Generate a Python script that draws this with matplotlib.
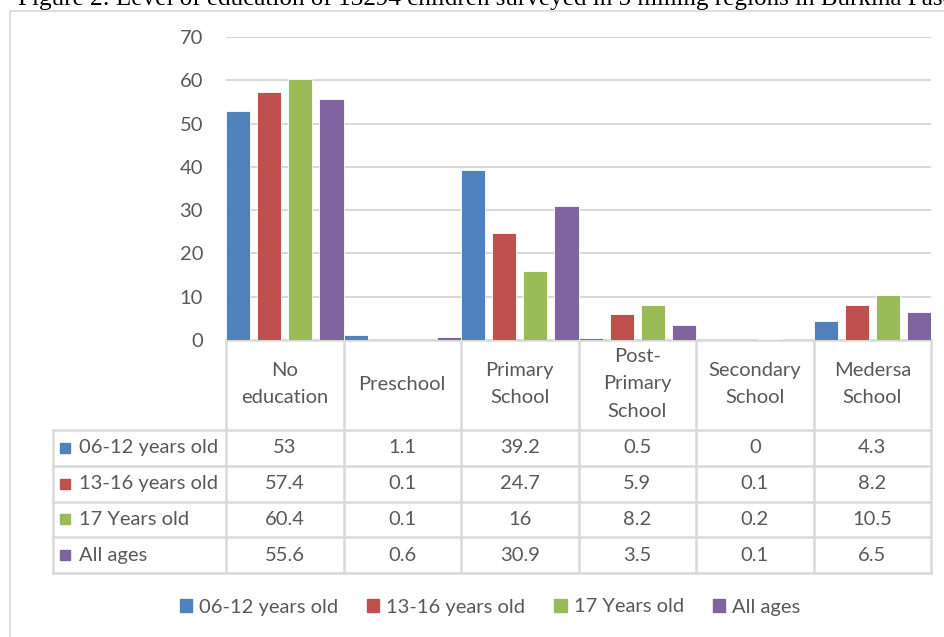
import numpy as np
import matplotlib
matplotlib.use("Agg")
import matplotlib.pyplot as plt
from matplotlib.patches import Rectangle

W, H = 944, 637

title = ("Figure 2: Level of education of 13294 children surveyed "
         "in 5 mining regions in Burkina Faso")
categories = ["No\neducation", "Preschool", "Primary\nSchool",
              "Post-\nPrimary\nSchool", "Secondary\nSchool", "Medersa\nSchool"]
series = ["06-12 years old", "13-16 years old", "17 Years old", "All ages"]
age_06_12 = [53, 1.1, 39.2, 0.5, 0, 4.3]
age_13_16 = [57.4, 0.1, 24.7, 5.9, 0.1, 8.2]
age_17 = [60.4, 0.1, 16, 8.2, 0.2, 10.5]
all_ages = [55.6, 0.6, 30.9, 3.5, 0.1, 6.5]
yticks = [0, 10, 20, 30, 40, 50, 60, 70]

colors = ["#4F81BD", "#C0504D", "#9BBB59", "#8064A2"]
GRID = "#D9D9D9"
TXT = "#595959"
FONT = "Lato"
FS = 14.5

# layout in pixels (from top-left)
PLOT_L, PLOT_R = 226, 931
Y0, YTOP = 340, 37
TAB_L = 53
HDR_BOT = 430
ROW_H = 35.75

fig = plt.figure(figsize=(W / 100, H / 100), dpi=100)
fig.patch.set_facecolor("white")

# ── overlay in pixel coords: frame, title, table ─────────────────────────────
ov = fig.add_axes([0, 0, 1, 1], zorder=0)
ov.set_xlim(0, W)
ov.set_ylim(H, 0)
ov.axis("off")
ov.add_patch(Rectangle((10, 11), W, H, fill=False, ec=GRID, lw=1.2))
ov.text(18, 5, title, family="Liberation Serif", fontsize=18.1, color="black",
        va="baseline", ha="left", clip_on=False)

# ── bars ─────────────────────────────────────────────────────────────────────
ax = fig.add_axes([PLOT_L / W, 1 - Y0 / H, (PLOT_R - PLOT_L) / W, (Y0 - YTOP) / H],
                  zorder=1)
ax.patch.set_visible(False)
x = np.arange(len(categories))
data = [age_06_12, age_13_16, age_17, all_ages]
bw = 0.208
offsets = [-0.396, -0.132, 0.132, 0.396]
for vals, off, col, lab in zip(data, offsets, colors, series):
    ax.bar(x + off, vals, width=bw, color=col, edgecolor="white",
           linewidth=0.6, label=lab, zorder=3)
ax.set_xlim(-0.5, len(categories) - 0.5)
ax.set_ylim(0, 70)
ax.set_yticks(yticks)
ax.set_xticks([])
ax.grid(axis="y", color=GRID, lw=1.5, zorder=0)
for sp in ax.spines.values():
    sp.set_visible(False)
ax.tick_params(axis="y", length=0, pad=16.5, labelsize=FS, labelcolor=TXT)
for t in ax.get_yticklabels():
    t.set_family(FONT)

# ── data table ───────────────────────────────────────────────────────────────
n = len(categories)
colw = (PLOT_R - PLOT_L) / n
edges = [PLOT_L + i * colw for i in range(n + 1)]
tab_bot = HDR_BOT + ROW_H * len(series)

ov.plot([PLOT_L, PLOT_R], [Y0, Y0], color=GRID, lw=1.8)
for ex in edges:
    ov.plot([ex, ex], [Y0, tab_bot], color=GRID, lw=1.8)
ov.plot([TAB_L, TAB_L], [HDR_BOT, tab_bot], color=GRID, lw=1.8)
for r in range(len(series) + 1):
    yy = HDR_BOT + r * ROW_H
    ov.plot([TAB_L, PLOT_R], [yy, yy], color=GRID, lw=1.8)

for i, cat in enumerate(categories):
    ov.text(edges[i] + colw / 2, (Y0 + HDR_BOT) / 2 - 1, cat, ha="center",
            va="center", fontsize=FS, color=TXT, family=FONT, linespacing=1.72)

for r, (lab, vals, col) in enumerate(zip(series, data, colors)):
    yc = HDR_BOT + (r + 0.5) * ROW_H
    ov.add_patch(Rectangle((60, yc - 5), 10, 10, color=col))
    ov.text(79, yc, lab, ha="left", va="center", fontsize=FS, color=TXT,
            family=FONT)
    for i, v in enumerate(vals):
        ov.text(edges[i] + colw / 2, yc, f"{v:g}", ha="center", va="center",
                fontsize=FS, color=TXT, family=FONT)

# ── legend ───────────────────────────────────────────────────────────────────
leg = fig.legend(handles=[Rectangle((0, 0), 1, 1, color=c) for c in colors],
                 labels=series, loc="center", ncol=4,
                 bbox_to_anchor=(490 / W, 1 - 607 / H), frameon=False,
                 handlelength=0.6, handleheight=0.6, handletextpad=0.35,
                 columnspacing=1.45, prop={"family": FONT, "size": FS})
for t in leg.get_texts():
    t.set_color(TXT)

fig.savefig("out.png", dpi=100, facecolor="white")
